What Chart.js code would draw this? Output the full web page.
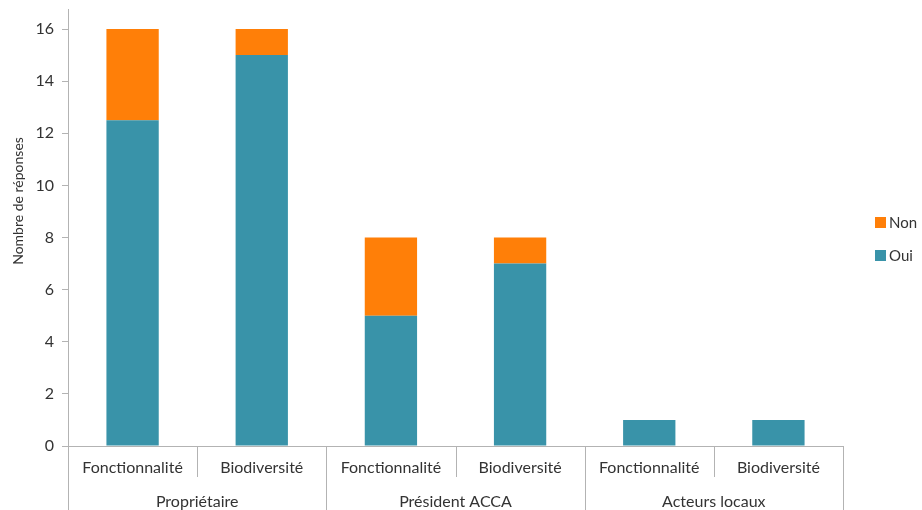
<!DOCTYPE html>
<html>
<head>
<meta charset="utf-8">
<script src="https://cdn.jsdelivr.net/npm/chart.js@4.4.1/dist/chart.umd.min.js"></script>
<style>
  body { margin: 0; background: #fff; }
  #wrap { width: 922px; height: 510px; }
</style>
</head>
<body>
<div id="wrap"><canvas id="chart"></canvas></div>
<script>
// sub categories (x axis, first row) and their groups (second row)
const categories = ['Fonctionnalité', 'Biodiversité', 'Fonctionnalité', 'Biodiversité', 'Fonctionnalité', 'Biodiversité'];
const groups = ['Propriétaire', 'Président ACCA', 'Acteurs locaux'];
const oui = [12.5, 15, 5, 7, 1, 1];
const non = [3.5, 1, 3, 1, 0, 0];
const yTicks = [0, 2, 4, 6, 8, 10, 12, 14, 16];

const axisGrey = '#b3b3b3';
const textColor = '#333333';
const font = 'Lato, "Open Sans", sans-serif';

// two-row category axis, legend and y title
const extras = {
  id: 'extras',
  afterDraw(chart) {
    const ctx = chart.ctx;
    const x = chart.scales.x;
    const area = chart.chartArea;
    const n = categories.length;
    const step = (area.right - area.left) / n;

    ctx.save();
    ctx.strokeStyle = axisGrey;
    ctx.lineWidth = 1;
    for (let k = 0; k <= n; k++) {
      const px = Math.round(area.left + k * step) + 0.5;
      ctx.beginPath();
      ctx.moveTo(px, area.bottom);
      ctx.lineTo(px, k % 2 === 0 ? chart.height : area.bottom + 31);
      ctx.stroke();
    }

    ctx.fillStyle = textColor;
    ctx.textAlign = 'center';
    ctx.textBaseline = 'middle';
    ctx.font = '16px ' + font;
    categories.forEach((c, i) => {
      ctx.fillText(c, x.getPixelForValue(i), area.bottom + 22);
    });
    groups.forEach((g, i) => {
      const mid = (x.getPixelForValue(2 * i) + x.getPixelForValue(2 * i + 1)) / 2;
      ctx.fillText(g, mid, area.bottom + 56);
    });

    // legend, Non above Oui
    const items = chart.data.datasets.slice().reverse();
    items.forEach((d, i) => {
      const y = 222 + i * 33;
      ctx.fillStyle = d.backgroundColor;
      ctx.fillRect(875, y - 5, 11, 11);
      ctx.fillStyle = textColor;
      ctx.textAlign = 'left';
      ctx.font = '15px ' + font;
      ctx.fillText(d.label, 889, y + 1);
    });

    // y axis title
    ctx.translate(18, 201);
    ctx.rotate(-Math.PI / 2);
    ctx.textAlign = 'center';
    ctx.font = '14px ' + font;
    ctx.fillText('Nombre de réponses', 0, 0);
    ctx.restore();
  }
};

const chart = new Chart(document.getElementById('chart'), {
  type: 'bar',
  data: {
    labels: categories,
    datasets: [
      { label: 'Oui', data: oui, backgroundColor: '#3993a9' },
      { label: 'Non', data: non, backgroundColor: '#ff7f08' }
    ]
  },
  options: {
    responsive: true,
    maintainAspectRatio: false,
    animation: false,
    layout: { padding: { top: 9, right: 79, bottom: 64, left: 0 } },
    datasets: { bar: { categoryPercentage: 1, barPercentage: 0.405 } },
    plugins: { legend: { display: false }, tooltip: { enabled: false } },
    scales: {
      x: {
        stacked: true,
        afterFit(scale) { scale.height = 0; },
        grid: { display: false },
        border: { color: axisGrey },
        ticks: { display: false }
      },
      y: {
        stacked: true,
        min: 0,
        max: 16.77,
        afterFit(scale) {
          scale.width = 68;
          scale.paddingTop = 0;
          scale.paddingBottom = 0;
        },
        afterBuildTicks(scale) { scale.ticks = yTicks.map(v => ({ value: v })); },
        grid: { drawOnChartArea: false, drawTicks: true, tickLength: 6, color: axisGrey },
        border: { color: axisGrey },
        ticks: { color: textColor, font: { family: font, size: 16 }, padding: 8 }
      }
    }
  },
  plugins: [extras]
});
</script>
</body>
</html>
